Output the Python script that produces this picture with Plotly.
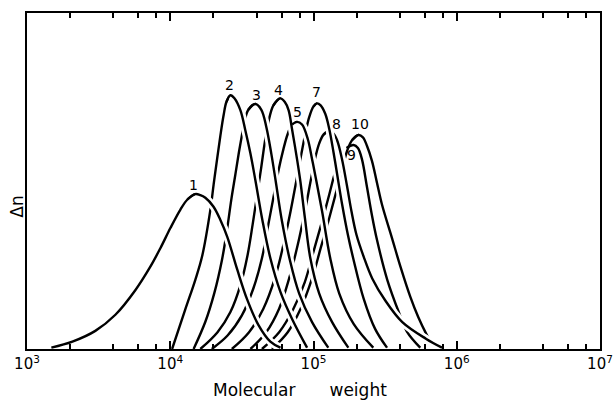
import numpy as np
import plotly.graph_objects as go

# ---- data (log10 molecular weight, relative Δn) ----
c1_rise_logM = [3.17, 3.317, 3.477, 3.617, 3.756, 3.861, 3.931, 4.001, 4.071, 4.12, 4.175]
c1_rise_v    = [0.004, 0.022, 0.054, 0.102, 0.175, 0.245, 0.30, 0.36, 0.415, 0.445, 0.461]
c1_fall_logM = [4.21, 4.245, 4.301, 4.35, 4.398, 4.468, 4.538, 4.615, 4.699, 4.769]
c1_fall_v    = [0.458, 0.450, 0.424, 0.384, 0.334, 0.236, 0.146, 0.072, 0.022, 0.004]

c2_rise_logM = [4.013, 4.105, 4.175, 4.222, 4.28, 4.303, 4.327, 4.35, 4.373, 4.392, 4.42]
c2_rise_v    = [0.0, 0.118, 0.206, 0.275, 0.414, 0.49, 0.565, 0.635, 0.697, 0.735, 0.755]
c2_fall_logM = [4.448, 4.49, 4.524, 4.559, 4.594, 4.643, 4.699, 4.769, 4.853, 4.955]
c2_fall_v    = [0.746, 0.71, 0.651, 0.583, 0.503, 0.384, 0.27, 0.17, 0.087, 0.004]

c3_rise_logM = [4.163, 4.245, 4.308, 4.361, 4.396, 4.426, 4.454, 4.479, 4.501, 4.517, 4.545, 4.594]
c3_rise_v    = [0.0, 0.081, 0.167, 0.265, 0.354, 0.444, 0.518, 0.585, 0.638, 0.675, 0.712, 0.729]
c3_fall_logM = [4.636, 4.671, 4.706, 4.736, 4.78, 4.835, 4.90, 4.99, 5.103]
c3_fall_v    = [0.712, 0.66, 0.58, 0.5, 0.38, 0.265, 0.165, 0.08, 0.004]

c4_rise_logM = [4.21, 4.33, 4.42, 4.49, 4.54, 4.575, 4.605, 4.635, 4.66, 4.685, 4.72, 4.768]
c4_rise_v    = [0.0, 0.05, 0.11, 0.19, 0.28, 0.37, 0.455, 0.54, 0.615, 0.675, 0.725, 0.746]
c4_fall_logM = [4.80, 4.826, 4.85, 4.885, 4.908, 4.94, 4.978, 5.04, 5.13, 5.243]
c4_fall_v    = [0.735, 0.711, 0.655, 0.565, 0.5, 0.39, 0.27, 0.165, 0.08, 0.004]

c5_rise_logM = [4.29, 4.40, 4.50, 4.58, 4.64, 4.68, 4.72, 4.755, 4.79, 4.82, 4.85, 4.885]
c5_rise_v    = [0.0, 0.04, 0.10, 0.18, 0.27, 0.36, 0.45, 0.53, 0.595, 0.64, 0.668, 0.676]
c5_fall_logM = [4.92, 4.96, 4.99, 5.02, 5.06, 5.117, 5.18, 5.28, 5.417]
c5_fall_v    = [0.668, 0.625, 0.565, 0.50, 0.41, 0.27, 0.165, 0.075, 0.004]

c7_rise_logM = [4.43, 4.55, 4.65, 4.73, 4.79, 4.84, 4.88, 4.915, 4.945, 4.97, 5.0, 5.024]
c7_rise_v    = [0.0, 0.05, 0.12, 0.21, 0.31, 0.41, 0.50, 0.58, 0.645, 0.69, 0.722, 0.731]
c7_fall_logM = [5.05, 5.082, 5.11, 5.14, 5.165, 5.2, 5.24, 5.28, 5.35, 5.43, 5.513]
c7_fall_v    = [0.725, 0.70, 0.655, 0.585, 0.52, 0.43, 0.34, 0.265, 0.15, 0.06, 0.004]

c8_rise_logM = [4.56, 4.67, 4.76, 4.83, 4.89, 4.94, 4.98, 5.01, 5.04, 5.07, 5.105]
c8_rise_v    = [0.0, 0.05, 0.12, 0.21, 0.31, 0.41, 0.50, 0.565, 0.612, 0.638, 0.648]
c8_fall_logM = [5.135, 5.164, 5.199, 5.234, 5.265, 5.30, 5.35, 5.41, 5.50, 5.62, 5.787, 5.897]
c8_fall_v    = [0.643, 0.622, 0.565, 0.485, 0.41, 0.34, 0.275, 0.21, 0.145, 0.08, 0.03, 0.004]

c9_rise_logM = [4.64, 4.76, 4.86, 4.94, 5.0, 5.06, 5.11, 5.15, 5.19, 5.23, 5.28]
c9_rise_v    = [0.0, 0.05, 0.12, 0.20, 0.29, 0.38, 0.46, 0.525, 0.575, 0.598, 0.607]
c9_fall_logM = [5.31, 5.338, 5.373, 5.408, 5.443, 5.515, 5.597, 5.652, 5.745]
c9_fall_v    = [0.598, 0.565, 0.483, 0.398, 0.325, 0.206, 0.108, 0.052, 0.004]

c10_rise_logM = [4.71, 4.82, 4.91, 4.99, 5.05, 5.11, 5.16, 5.20, 5.235, 5.27, 5.315]
c10_rise_v    = [0.0, 0.05, 0.12, 0.21, 0.30, 0.39, 0.47, 0.535, 0.59, 0.622, 0.637]
c10_fall_logM = [5.345, 5.373, 5.408, 5.443, 5.478, 5.548, 5.607, 5.676, 5.731, 5.787, 5.81]
c10_fall_v    = [0.63, 0.605, 0.56, 0.495, 0.43, 0.33, 0.245, 0.155, 0.095, 0.045, 0.028]

curve_names = ["1", "2", "3", "4", "5", "7", "8", "9", "10"]
front_order = ["1", "2", "3", "4", "5", "9", "10", "8", "7"]
label_logM = [4.163, 4.415, 4.601, 4.756, 4.885, 5.024, 5.164, 5.262, 5.327]
label_v    = [0.488, 0.785, 0.755, 0.770, 0.706, 0.765, 0.671, 0.577, 0.671]

major_ticks = [1e3, 1e4, 1e5, 1e6, 1e7]
major_text = ["10<sup>3</sup>", "10<sup>4</sup>", "10<sup>5</sup>", "10<sup>6</sup>", "10<sup>7</sup>"]
minor_mult = [2, 4, 6, 8]

curves = {
    "1": (c1_rise_logM, c1_rise_v, c1_fall_logM, c1_fall_v),
    "2": (c2_rise_logM, c2_rise_v, c2_fall_logM, c2_fall_v),
    "3": (c3_rise_logM, c3_rise_v, c3_fall_logM, c3_fall_v),
    "4": (c4_rise_logM, c4_rise_v, c4_fall_logM, c4_fall_v),
    "5": (c5_rise_logM, c5_rise_v, c5_fall_logM, c5_fall_v),
    "7": (c7_rise_logM, c7_rise_v, c7_fall_logM, c7_fall_v),
    "8": (c8_rise_logM, c8_rise_v, c8_fall_logM, c8_fall_v),
    "9": (c9_rise_logM, c9_rise_v, c9_fall_logM, c9_fall_v),
    "10": (c10_rise_logM, c10_rise_v, c10_fall_logM, c10_fall_v),
}

HALO = 8
INK = 2.4
SMOOTH = 1.0

fig = go.Figure()

def add_line(lx, v, color, width):
    fig.add_trace(go.Scatter(x=10 ** np.array(lx), y=v, mode="lines", hoverinfo="skip",
                             line=dict(color=color, width=width, shape="spline", smoothing=SMOOTH)))

# step 1: rising flanks (behind) with a white gap, plus each whole curve in ink
for name in curve_names:
    rx, rv, fx, fv = curves[name]
    add_line(list(rx) + [fx[0]], list(rv) + [fv[0]], "white", HALO)
    add_line(list(rx) + list(fx), list(rv) + list(fv), "black", INK)

# step 2: descending flanks in front, each masking what lies behind it
for name in front_order:
    rx, rv, fx, fv = curves[name]
    px = [rx[-2], rx[-1]] + list(fx)
    pv = [rv[-2], rv[-1]] + list(fv)
    add_line(px[1:], pv[1:], "white", HALO)
    add_line(px, pv, "black", INK)

minor_vals = [m * 10 ** e for e in range(3, 7) for m in minor_mult]

font = "DejaVu Sans"
fig.update_layout(
    width=613, height=401,
    margin=dict(l=27, r=13, t=13, b=52),
    paper_bgcolor="white", plot_bgcolor="white",
    showlegend=False,
    xaxis=dict(type="log", range=[3, 7], tickmode="array", tickvals=major_ticks, ticktext=major_text,
               ticks="inside", ticklen=8, tickwidth=1.5, tickcolor="black",
               showline=True, linecolor="black", linewidth=2, mirror="ticks",
               showgrid=False, zeroline=False, ticklabeloverflow="allow", automargin=False,
               tickfont=dict(family=font, size=15, color="black"),
               minor=dict(tickmode="array", tickvals=minor_vals, ticks="inside", ticklen=5,
                          tickwidth=1.5, tickcolor="black", showgrid=False)),
    yaxis=dict(range=[0, 1], showticklabels=False, ticks="", showline=True, linecolor="black",
               linewidth=2, mirror=True, showgrid=False, zeroline=False, automargin=False),
)

for name, lx, lv in zip(curve_names, label_logM, label_v):
    fig.add_annotation(x=lx, y=lv, xref="x", yref="y", text=name, showarrow=False,
                       xanchor="center", yanchor="middle",
                       font=dict(family=font, size=14, color="black"))

fig.add_annotation(x=-0.019, y=0.424, xref="paper", yref="paper", text="Δn", textangle=-90,
                   xanchor="center", yanchor="middle",
                   showarrow=False, font=dict(family=font, size=17, color="black"))
fig.add_annotation(x=0.477, y=-0.121, xref="paper", yref="paper", text="Molecular\u2003\u2003weight",
                   xanchor="center", yanchor="middle",
                   showarrow=False, font=dict(family=font, size=17, color="black"))

fig.write_html("out.html")
